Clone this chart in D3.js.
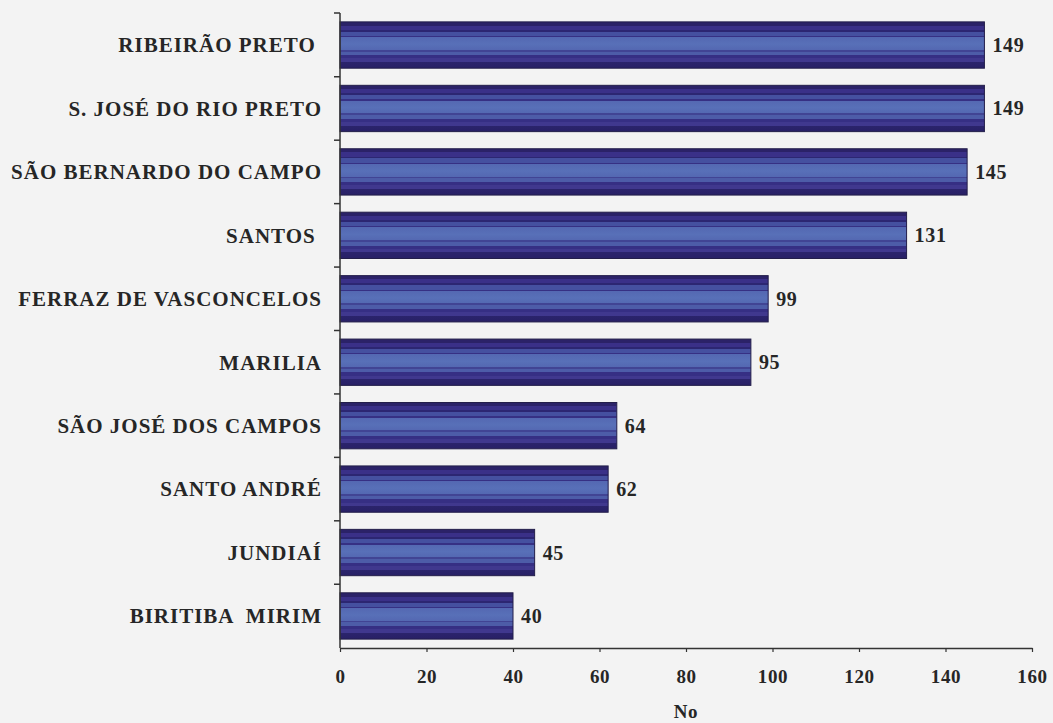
<!DOCTYPE html>
<html>
<head>
<meta charset="utf-8">
<script src="https://cdn.jsdelivr.net/npm/d3@7"></script>
<style>
  html, body { margin: 0; padding: 0; background: #f3f3f3; }
  svg { display: block; }
  text { font-family: "Liberation Serif", "Times New Roman", serif; font-weight: bold; fill: #262626; }
</style>
</head>
<body>
<svg id="chart"></svg>
<script>
const cities = [
    "RIBEIRÃO PRETO ",
    "S. JOSÉ DO RIO PRETO",
    "SÃO BERNARDO DO CAMPO",
    "SANTOS ",
    "FERRAZ DE VASCONCELOS",
    "MARILIA",
    "SÃO JOSÉ DOS CAMPOS",
    "SANTO ANDRÉ",
    "JUNDIAÍ",
    "BIRITIBA  MIRIM"
];
const counts = [149, 149, 145, 131, 99, 95, 64, 62, 45, 40];
const xTicks = [0, 20, 40, 60, 80, 100, 120, 140, 160];
const xTitle = "No";

const config = {
    width: 1053,
    height: 723,
    margin: { top: 13, right: 21, bottom: 75, left: 340 }
};

const svg = d3.select("#chart")
    .attr("width", config.width)
    .attr("height", config.height);

// striped fill for the bars
const grad = svg.append("defs").append("linearGradient")
    .attr("id", "barFill")
    .attr("x1", 0).attr("y1", 0).attr("x2", 0).attr("y2", 1);

const stripes = [
    [0.00, "#2b2268"], [0.08, "#2b2268"], [0.08, "#3a3088"], [0.17, "#3a3088"],
    [0.17, "#2c2672"], [0.21, "#2c2672"], [0.21, "#4550a0"], [0.30, "#4550a0"],
    [0.30, "#363084"], [0.33, "#363084"], [0.33, "#5468b2"], [0.48, "#5870b8"],
    [0.60, "#5468b2"], [0.60, "#414494"], [0.64, "#414494"], [0.64, "#4d5ca8"],
    [0.72, "#4d5ca8"], [0.72, "#362f84"], [0.79, "#362f84"], [0.79, "#40388e"],
    [0.87, "#40388e"], [0.87, "#2b246c"], [1.00, "#282066"]
];
grad.selectAll("stop")
    .data(stripes)
    .join("stop")
    .attr("offset", d => d[0])
    .attr("stop-color", d => d[1]);

const left = config.margin.left;
const bottom = config.height - config.margin.bottom;

const x = d3.scaleLinear().domain([0, 160]).range([left, config.width - config.margin.right]);
const y = d3.scaleBand().domain(cities).range([config.margin.top, bottom]).paddingInner(0.27).paddingOuter(0.14);

// bars
svg.selectAll(".bar")
    .data(cities)
    .join("rect")
    .attr("class", "bar")
    .attr("x", x(0))
    .attr("y", d => y(d))
    .attr("width", (d, i) => x(counts[i]) - x(0))
    .attr("height", y.bandwidth())
    .attr("fill", "url(#barFill)")
    .attr("stroke", "#231e4a")
    .attr("stroke-width", 1);

// value labels
svg.selectAll(".value")
    .data(cities)
    .join("text")
    .attr("class", "value")
    .attr("x", (d, i) => x(counts[i]) + 8)
    .attr("y", d => y(d) + y.bandwidth() / 2)
    .attr("dy", "0.35em")
    .attr("font-size", 20)
    .attr("letter-spacing", 0.7)
    .text((d, i) => counts[i]);

// category labels
svg.selectAll(".cat")
    .data(cities)
    .join("text")
    .attr("class", "cat")
    .attr("x", left - 18)
    .attr("y", d => y(d) + y.bandwidth() / 2)
    .attr("dy", "0.35em")
    .attr("text-anchor", "end")
    .attr("font-size", 21)
    .attr("letter-spacing", 1)
    .style("white-space", "pre")
    .text(d => d);

// y axis line with ticks at band boundaries
const step = y.step();
const boundaries = d3.range(1, cities.length).map(i => y(cities[i]) - (step - y.bandwidth()) / 2);
svg.append("line")
    .attr("x1", left).attr("x2", left)
    .attr("y1", config.margin.top).attr("y2", bottom)
    .attr("stroke", "#333").attr("stroke-width", 1.5);
svg.selectAll(".ytick")
    .data([config.margin.top, ...boundaries])
    .join("line")
    .attr("class", "ytick")
    .attr("x1", left - 6).attr("x2", left)
    .attr("y1", d => d).attr("y2", d => d)
    .attr("stroke", "#333").attr("stroke-width", 1.5);

// x axis
const xAxis = svg.append("g")
    .attr("transform", `translate(0,${bottom})`)
    .call(d3.axisBottom(x).tickValues(xTicks).tickSize(4).tickSizeOuter(0));
xAxis.attr("font-family", null).attr("font-size", null);
xAxis.select(".domain").attr("stroke", "#333").attr("stroke-width", 1.5);
xAxis.selectAll(".tick line").attr("stroke", "#333").attr("stroke-width", 1.2);
xAxis.selectAll(".tick text")
    .attr("y", 35)
    .attr("dy", null)
    .attr("font-size", 19)
    .attr("letter-spacing", 0.6)
    .attr("fill", "#262626");

svg.append("text")
    .attr("x", x(80))
    .attr("y", bottom + 70)
    .attr("text-anchor", "middle")
    .attr("font-size", 19)
    .attr("letter-spacing", 0.6)
    .text(xTitle);
</script>
</body>
</html>
